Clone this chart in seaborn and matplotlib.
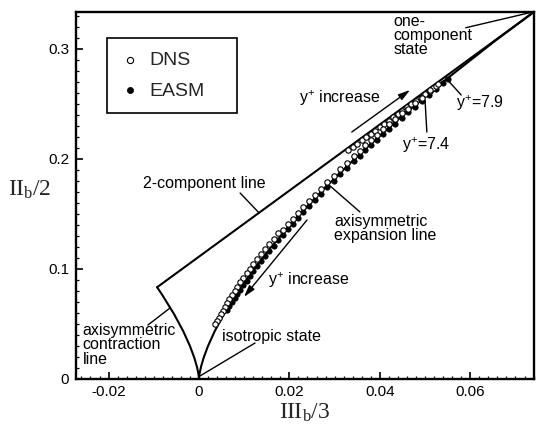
import matplotlib
matplotlib.use("Agg")
import matplotlib.pyplot as plt
import seaborn as sns
import pandas as pd
from matplotlib.ticker import MultipleLocator

# ---------------- boundary curves of the anisotropy-invariant map ----------------
exp_x = [0, 0.000016, 0.000128, 0.000432, 0.001024, 0.002, 0.003456, 0.005488,
         0.008192, 0.011664, 0.016, 0.021296, 0.027648, 0.035152, 0.043904,
         0.054, 0.065536, 0.074074]
exp_y = [0, 0.0012, 0.0048, 0.0108, 0.0192, 0.03, 0.0432, 0.0588, 0.0768,
         0.0972, 0.12, 0.1452, 0.1728, 0.2028, 0.2352, 0.27, 0.3072, 0.333333]
con_x = [0, -0.000016, -0.000128, -0.000432, -0.001024, -0.002, -0.003456,
         -0.005488, -0.008192, -0.009259]
con_y = [0, 0.0012, 0.0048, 0.0108, 0.0192, 0.03, 0.0432, 0.0588, 0.0768,
         0.083333]
two_x = [-0.009259, 0.074074]
two_y = [0.083333, 0.333333]

# ---------------- DNS (open circles) ----------------
dns_x = [0.0330, 0.0340, 0.0350, 0.0360, 0.0370, 0.0380, 0.0390, 0.0400,
         0.0410, 0.0420, 0.0430, 0.0440, 0.0450, 0.0460, 0.0470, 0.0480,
         0.0490, 0.0500, 0.0510, 0.0518, 0.0525,
         0.052927, 0.051, 0.049284, 0.047776, 0.046298, 0.044852, 0.043435,
         0.042049, 0.040693, 0.039366, 0.038068, 0.036799, 0.035559, 0.034347,
         0.032774, 0.03125, 0.029774, 0.028345, 0.026963, 0.025626, 0.024334,
         0.023086, 0.02188, 0.02072, 0.019601, 0.018522,
         0.017484, 0.016485, 0.015525, 0.014603, 0.013718, 0.01287, 0.012057,
         0.01128, 0.010536, 0.009826, 0.009149, 0.008503, 0.007889, 0.007305,
         0.00675, 0.006224, 0.005727, 0.005256, 0.004812, 0.004394, 0.004001,
         0.003632]
dns_y = [0.2076, 0.2106, 0.2136, 0.2166, 0.2196, 0.2226, 0.2256, 0.2286,
         0.2316, 0.2346, 0.2376, 0.2406, 0.2436, 0.2466, 0.2496, 0.2526,
         0.2556, 0.2586, 0.2616, 0.2640, 0.2661,
         0.26791, 0.26220, 0.25554, 0.25033, 0.24518, 0.24157, 0.23652,
         0.23153, 0.22659, 0.2217, 0.21687, 0.21209, 0.20736, 0.20269,
         0.19655, 0.1905, 0.18455, 0.17869, 0.17293, 0.16727, 0.1617,
         0.15623, 0.15085, 0.14557, 0.14039, 0.1353,
         0.13231, 0.12741, 0.12261, 0.11791, 0.1133, 0.10879, 0.10437,
         0.10005, 0.09583, 0.0917, 0.08767, 0.08373, 0.07989, 0.07615,
         0.0725, 0.06895, 0.06549, 0.06213, 0.05887, 0.0557, 0.05263,
         0.04965]

# ---------------- EASM (filled circles) ----------------
easm_x = [0.006224, 0.00675, 0.007305, 0.007889, 0.008503, 0.009149, 0.009826,
          0.010536, 0.01128, 0.012057, 0.01287, 0.013718, 0.014603, 0.015525,
          0.016485, 0.017484, 0.018522, 0.019601, 0.02072, 0.021882, 0.023086,
          0.024334, 0.025626, 0.026963, 0.028345, 0.029774, 0.03125, 0.032774,
          0.034347, 0.035559, 0.036799, 0.038068, 0.039366, 0.040693, 0.042049,
          0.043435, 0.044852, 0.046298, 0.047776, 0.049284, 0.050824, 0.052396,
          0.054, 0.055087]
easm_y = [0.06245, 0.066, 0.06965, 0.07339, 0.07723, 0.08117, 0.0852,
          0.08933, 0.09355, 0.09787, 0.10229, 0.1068, 0.11141, 0.11611,
          0.12091, 0.12581, 0.1308, 0.13589, 0.14107, 0.14635, 0.15173,
          0.1572, 0.16277, 0.16843, 0.17419, 0.18005, 0.186, 0.19205,
          0.19819, 0.20286, 0.20759, 0.21237, 0.2172, 0.22209, 0.22703,
          0.23202, 0.23707, 0.24218, 0.24733, 0.25254, 0.25781, 0.26313,
          0.2685, 0.27211]

xticks = [-0.02, 0, 0.02, 0.04, 0.06]
xtick_labels = ["-0.02", "0", "0.02", "0.04", "0.06"]
yticks = [0, 0.1, 0.2, 0.3]
ytick_labels = ["0", "0.1", "0.2", "0.3"]

sns.set_style("ticks")
plt.rcParams["font.family"] = ["Liberation Sans", "DejaVu Sans"]
plt.rcParams["mathtext.fontset"] = "custom"
plt.rcParams["mathtext.rm"] = "Liberation Serif"
plt.rcParams["mathtext.it"] = "Liberation Serif:italic"
plt.rcParams["mathtext.bf"] = "Liberation Serif:bold"
plt.rcParams["mathtext.sf"] = "Liberation Sans"
plt.rcParams["axes.unicode_minus"] = False

fig = plt.figure(figsize=(5.36, 4.26), dpi=100)
ax = fig.add_axes([76 / 536, 47 / 426, 458 / 536, 367 / 426])

for bx, by in [(exp_x, exp_y), (con_x, con_y), (two_x, two_y)]:
    sns.lineplot(x=bx, y=by, sort=False, estimator=None, color="black",
                 lw=1.5, ax=ax, legend=False)

df_easm = pd.DataFrame({"x": easm_x, "y": easm_y})
df_dns = pd.DataFrame({"x": dns_x, "y": dns_y})
sns.scatterplot(data=df_dns, x="x", y="y", ax=ax, marker="o", s=15,
                facecolor="white", edgecolor="black", linewidth=0.8,
                label="DNS", zorder=4)
sns.scatterplot(data=df_easm, x="x", y="y", ax=ax, marker="o", s=15,
                color="black", edgecolor="black", linewidth=0.5,
                label="EASM", zorder=3)

ax.set_xlim(-0.0272, 0.0741)
ax.set_ylim(0, 0.3333)
ax.set_xticks(xticks)
ax.set_xticklabels(xtick_labels)
ax.set_yticks(yticks)
ax.set_yticklabels(ytick_labels)
ax.xaxis.set_minor_locator(MultipleLocator(0.002))
ax.yaxis.set_minor_locator(MultipleLocator(0.01))
ax.tick_params(which="both", direction="in", top=False, right=False,
               colors="black", labelsize=11)
ax.tick_params(which="major", length=5, width=1.2)
ax.tick_params(which="minor", length=2.5, width=0.9)
ax.tick_params(axis="x", pad=4)
ax.tick_params(axis="y", pad=5)
for sp in ax.spines.values():
    sp.set_linewidth(1.7)
    sp.set_color("black")

ax.set_xlabel(r"$\mathrm{III}_{\mathrm{b}}\mathrm{/3}$", fontsize=17, labelpad=2)
ax.set_ylabel(r"$\mathrm{II}_{\mathrm{b}}\mathrm{/2}$", fontsize=17,
              rotation=0, ha="center", va="center")
ax.yaxis.set_label_coords(-0.10, 0.515)

leg = ax.legend(loc="upper left", bbox_to_anchor=(0.0677, 0.725, 0.284, 0.204),
                mode="expand", borderaxespad=0, fancybox=False, frameon=True,
                edgecolor="black", fontsize=14, handlelength=1.0,
                handletextpad=0.5, borderpad=0.7, labelspacing=0.65,
                markerscale=1.15)
leg.get_frame().set_linewidth(1.2)
leg.get_frame().set_alpha(1)

fs = 11.5
txt = dict(fontsize=fs, color="black")
line = dict(arrowstyle="-", color="black", lw=1.0, shrinkA=0, shrinkB=0)
arrow = dict(arrowstyle="-|>,head_length=0.7,head_width=0.2", color="black",
             lw=1.0, shrinkA=0, shrinkB=0)

ax.text(0.0431, 0.3318, "one-\ncomponent\nstate", ha="left", va="top",
        linespacing=0.95, **txt)
ax.annotate("", xy=(0.0735, 0.3330), xytext=(0.0590, 0.3190), arrowprops=line)

ax.text(0.0221, 0.2552, r"y$^{\mathsf{+}}$ increase", ha="left", va="center", **txt)
ax.annotate("", xy=(0.0467, 0.2625), xytext=(0.0338, 0.2243), arrowprops=arrow)

ax.text(0.0449, 0.2134, r"y$^{\mathsf{+}}$=7.4", ha="left", va="center", **txt)
ax.annotate("", xy=(0.0500, 0.2534), xytext=(0.0504, 0.2243), arrowprops=line)

ax.text(0.0568, 0.2507, r"y$^{\mathsf{+}}$=7.9", ha="left", va="center", **txt)
ax.annotate("", xy=(0.0546, 0.2734), xytext=(0.0580, 0.2579), arrowprops=line)

ax.text(-0.0124, 0.178, "2-component line", ha="left", va="center", **txt)
ax.annotate("", xy=(0.0133, 0.1508), xytext=(0.0091, 0.1689), arrowprops=line)

ax.text(0.0299, 0.150, "axisymmetric\nexpansion line", ha="left", va="top",
        linespacing=0.95, **txt)
ax.annotate("", xy=(0.0356, 0.1517), xytext=(0.0285, 0.1771), arrowprops=line)

ax.text(0.0153, 0.0908, r"y$^{\mathsf{+}}$ increase", ha="left", va="center", **txt)
ax.annotate("", xy=(0.00995, 0.0745), xytext=(0.0239, 0.1444), arrowprops=arrow)

ax.text(0.0051, 0.039, "isotropic state", ha="left", va="center", **txt)
ax.annotate("", xy=(0.0002, 0.0027), xytext=(0.0124, 0.0327), arrowprops=line)

ax.text(-0.0257, 0.051, "axisymmetric\ncontraction\nline", ha="left", va="top",
        linespacing=0.95, **txt)
ax.annotate("", xy=(-0.0064, 0.0645), xytext=(-0.0113, 0.049), arrowprops=line)

fig.savefig("out.png", dpi=100)
